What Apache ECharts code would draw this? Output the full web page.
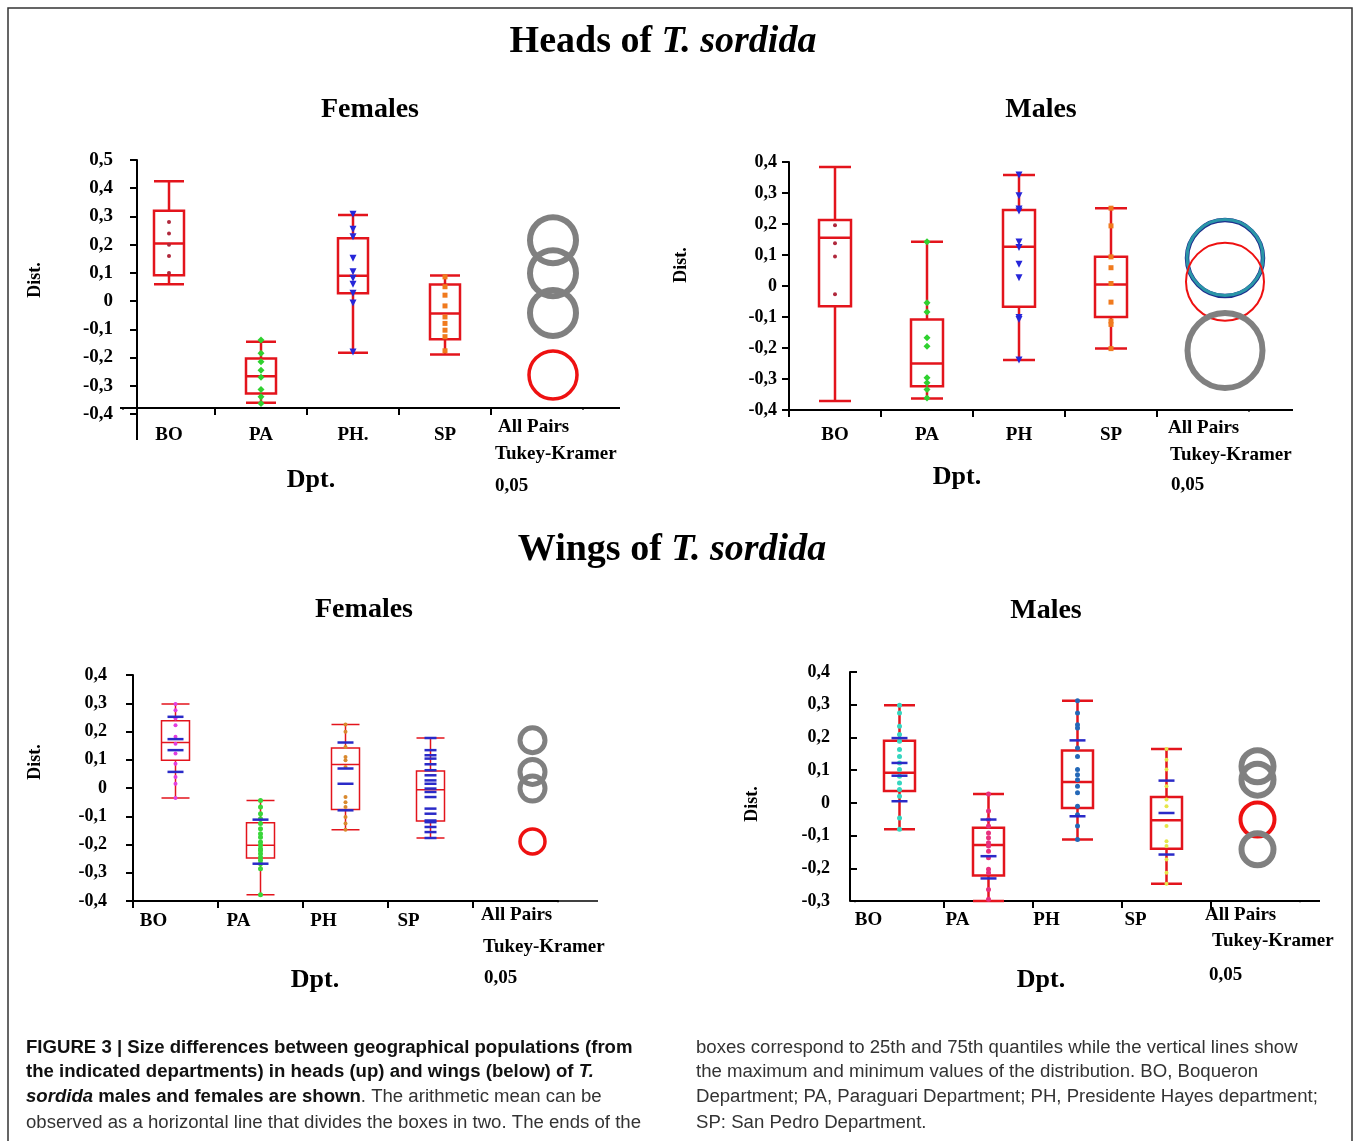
<!DOCTYPE html>
<html><head><meta charset="utf-8">
<script src="https://cdn.jsdelivr.net/npm/echarts@6/dist/echarts.min.js"></script>
<style>html,body{margin:0;padding:0;background:#fff}#c{width:1354px;height:1141px}</style>
</head><body><div id="c"></div>
<script>
// ---------------- DATA ----------------
const headsFemaleCats = ['BO', 'PA', 'PH.', 'SP', 'All Pairs'];
const otherCats = ['BO', 'PA', 'PH', 'SP', 'All Pairs'];

// boxes: [min, Q1, median, Q3, max] for BO, PA, PH, SP
const hfBoxes = [[0.06, 0.092, 0.204, 0.32, 0.425], [-0.36, -0.327, -0.266, -0.203, -0.144], [-0.183, 0.028, 0.09, 0.223, 0.305], [-0.189, -0.135, -0.044, 0.059, 0.091]];
const hfPtsBO = [0.28, 0.24, 0.2, 0.16, 0.1];
const hfPtsPA = [-0.138, -0.185, -0.215, -0.245, -0.27, -0.313, -0.339, -0.363];
const hfPtsPH = [0.308, 0.255, 0.228, 0.152, 0.104, 0.081, 0.06, 0.028, -0.007, -0.18];
const hfPtsSP = [0.086, 0.051, 0.021, -0.017, -0.056, -0.079, -0.103, -0.126, -0.176];
const hfCircles = [0.216, 0.099, -0.042, -0.262];

const hmBoxes = [[-0.371, -0.065, 0.156, 0.213, 0.384], [-0.363, -0.323, -0.25, -0.108, 0.143], [-0.239, -0.067, 0.127, 0.245, 0.358], [-0.202, -0.1, 0.005, 0.094, 0.251]];
const hmPtsBO = [0.196, 0.138, 0.095, -0.027];
const hmPtsPA = [0.143, -0.054, -0.084, -0.167, -0.194, -0.296, -0.312, -0.334, -0.361];
const hmPtsPH = [0.358, 0.291, 0.248, 0.242, 0.142, 0.124, 0.07, 0.027, -0.102, -0.108, -0.239];
const hmPtsSP = [0.251, 0.194, 0.094, 0.059, 0.008, -0.052, -0.113, -0.124, -0.202];
const hmCircles = [0.09, 0.092, 0.014, -0.208];

const wfBoxes = [[-0.035, 0.098, 0.161, 0.238, 0.297], [-0.378, -0.248, -0.203, -0.123, -0.044], [-0.148, -0.076, 0.083, 0.142, 0.225], [-0.177, -0.117, -0.006, 0.06, 0.177]];
const wfPtsBO = [0.297, 0.275, 0.246, 0.222, 0.181, 0.157, 0.122, 0.086, 0.039, 0.015, -0.035];
const wfPtsPA = [-0.044, -0.067, -0.091, -0.109, -0.126, -0.144, -0.162, -0.174, -0.191, -0.203, -0.215, -0.221, -0.233, -0.245, -0.256, -0.268, -0.286, -0.378];
const wfPtsPH = [0.225, 0.199, 0.145, 0.11, 0.098, 0.074, -0.032, -0.05, -0.067, -0.103, -0.126, -0.148];
const wfPtsSP = [];
const wfCrossBO = [0.252, 0.173, 0.134, 0.057];
const wfCrossPA = [-0.112, -0.268];
const wfCrossPH = [0.161, 0.069, 0.015, -0.079];
const wfCrossSP = [0.177, 0.134, 0.116, 0.104, 0.084, 0.063, 0.045, 0.027, 0.015, -0.002, -0.014, -0.032, -0.073, -0.091, -0.115, -0.121, -0.138, -0.156, -0.177];
const wfCircles = [0.169, 0.057, -0.002, -0.189];

const wmBoxes = [[-0.081, 0.036, 0.092, 0.19, 0.298], [-0.3, -0.222, -0.129, -0.076, 0.027], [-0.112, -0.016, 0.064, 0.16, 0.312], [-0.247, -0.14, -0.053, 0.018, 0.165]];
const wmPtsBO = [0.298, 0.275, 0.234, 0.209, 0.188, 0.163, 0.142, 0.122, 0.102, 0.081, 0.061, 0.041, 0.02, -0.046, -0.081];
const wmPtsPA = [0.027, -0.025, -0.051, -0.071, -0.092, -0.107, -0.122, -0.132, -0.148, -0.168, -0.203, -0.214, -0.265, -0.295];
const wmPtsPH = [0.312, 0.275, 0.239, 0.229, 0.168, 0.142, 0.102, 0.086, 0.071, 0.051, 0.031, -0.01, -0.036, -0.071, -0.112];
const wmPtsSP = [0.165, 0.132, 0.102, 0.051, 0.01, -0.01, -0.071, -0.117, -0.132, -0.173, -0.214, -0.247];
const wmCrossBO = [0.198, 0.122, 0.083, 0.005];
const wmCrossPA = [-0.051, -0.163, -0.231];
const wmCrossPH = [0.191, -0.041];
const wmCrossSP = [0.068, -0.031, -0.158];
const wmCircles = [0.112, 0.071, -0.051, -0.142];

const captionLeft = [
  '{b|FIGURE 3 | Size differences between geographical populations (from}',
  '{b|the indicated departments) in heads (up) and wings (below) of }{bi|T.}',
  '{bi|sordida}{b| males and females are shown}{n|. The arithmetic mean can be}',
  '{n|observed as a horizontal line that divides the boxes in two. The ends of the}'
];
const captionRight = [
  'boxes correspond to 25th and 75th quantiles while the vertical lines show',
  'the maximum and minimum values of the distribution. BO, Boqueron',
  'Department; PA, Paraguari Department; PH, Presidente Hayes department;',
  'SP: San Pedro Department.'
];

// ---------------- STYLES / LAYOUT ----------------
const SERIF = '"Liberation Serif", "Times New Roman", serif';
const SANS = '"Liberation Sans", Arial, sans-serif';
const RED = '#e3141c', GRAY = '#808080', BLUE = '#2a2ac8';
const headPtStyle = [
  {symbol: 'circle', size: 4, color: '#b0283c'},
  {symbol: 'diamond', size: 7, color: '#2fd12f'},
  {symbol: 'triangle', size: 7, color: '#2626d9', rotate: 180},
  {symbol: 'rect', size: 5, color: '#f07a1e'}
];
const panels = [
  {cats: headsFemaleCats, boxes: hfBoxes, pts: [hfPtsBO, hfPtsPA, hfPtsPH, hfPtsSP], crosses: null, circles: hfCircles,
   circleStyle: [{c: GRAY, w: 6, s: 46}, {c: GRAY, w: 6, s: 46}, {c: GRAY, w: 6, s: 46}, {c: '#ee1111', w: 3.5, s: 48}],
   circleOffset: 16, grid: {left: 123, top: 160, width: 460, height: 254}, ymin: -0.4, ymax: 0.5, yOffset: -14, xOffset: -6,
   boxW: 30, lw: 2.5, ptStyle: headPtStyle, yLabelMargin: 24, yLabelSize: 19, xLabelMargin: 18, xPad: 0, tickInside: false},
  {cats: otherCats, boxes: hmBoxes, pts: [hmPtsBO, hmPtsPA, hmPtsPH, hmPtsSP], crosses: null, circles: hmCircles,
   circleStyle: [{c: '#1c2c8c', w: 4.5, s: 76}, {c: '#2a96a8', w: 3, s: 76}, {c: '#ee1111', w: 2, s: 78}, {c: GRAY, w: 6, s: 75}],
   circleOffset: 22, grid: {left: 789, top: 162, width: 460, height: 248}, ymin: -0.4, ymax: 0.4, yOffset: 0, xOffset: 0,
   boxW: 32, lw: 2.5, ptStyle: headPtStyle, yLabelMargin: 12, yLabelSize: 18, xLabelMargin: 16, xPad: 0, tickInside: false},
  {cats: otherCats, boxes: wfBoxes, pts: [wfPtsBO, wfPtsPA, wfPtsPH, wfPtsSP], crosses: [wfCrossBO, wfCrossPA, wfCrossPH, wfCrossSP], circles: wfCircles,
   circleStyle: [{c: GRAY, w: 5, s: 25}, {c: GRAY, w: 5, s: 25}, {c: GRAY, w: 5, s: 25}, {c: '#ee1111', w: 3.5, s: 25}],
   circleOffset: 17, grid: {left: 133, top: 675, width: 425, height: 226}, ymin: -0.4, ymax: 0.4, yOffset: 0, xOffset: 0,
   boxW: 28, lw: 1.5, yLabelMargin: 26, yLabelSize: 18, xLabelMargin: 11, xPad: 44, tickInside: false,
   ptStyle: [{symbol: 'circle', size: 4, color: '#e23ee0'}, {symbol: 'circle', size: 5, color: '#39d639'}, {symbol: 'circle', size: 4, color: '#d9892e'}, {symbol: 'circle', size: 4, color: BLUE}]},
  {cats: otherCats, boxes: wmBoxes, pts: [wmPtsBO, wmPtsPA, wmPtsPH, wmPtsSP], crosses: [wmCrossBO, wmCrossPA, wmCrossPH, wmCrossSP], circles: wmCircles,
   circleStyle: [{c: GRAY, w: 6, s: 32}, {c: GRAY, w: 6, s: 32}, {c: '#ee1111', w: 4, s: 34}, {c: GRAY, w: 6, s: 32}],
   circleOffset: 2, grid: {left: 855, top: 672, width: 445, height: 229}, ymin: -0.3, ymax: 0.4, yOffset: 5, xOffset: 0,
   boxW: 31, lw: 2.5, yLabelMargin: 20, yLabelSize: 18, xLabelMargin: 10, xPad: 62, tickInside: true,
   ptStyle: [{symbol: 'circle', size: 5, color: '#35d6c0'}, {symbol: 'circle', size: 5, color: '#e8307e'}, {symbol: 'circle', size: 5, color: '#2468b8'}, {symbol: 'circle', size: 4, color: '#e6e64a'}]}
];

function fmt(v) {
  if (Math.abs(v) < 1e-9) return '0';
  return v.toFixed(1).replace('.', ',');
}

const grids = [], xAxes = [], yAxes = [], series = [];
panels.forEach((p, i) => {
  grids.push(Object.assign({outerBoundsMode: 'none', containLabel: false}, p.grid));
  xAxes.push({
    type: 'category', gridIndex: i, data: p.cats, boundaryGap: true, offset: p.xOffset,
    axisLine: {onZero: false, lineStyle: {color: '#000', width: 2}},
    axisTick: {show: true, length: 7, lineStyle: {color: '#000', width: 2}},
    axisLabel: {margin: p.xLabelMargin, color: '#000', fontFamily: SERIF, fontWeight: 'bold', fontSize: 19,
      padding: [0, p.xPad, 0, 0], interval: 0,
      formatter: v => v === 'All Pairs' ? '' : v},
    splitLine: {show: false}
  });
  yAxes.push({
    type: 'value', gridIndex: i, min: p.ymin, max: p.ymax, interval: 0.1, offset: p.yOffset,
    axisLine: {show: true, onZero: false, lineStyle: {color: '#000', width: 2}},
    axisTick: {show: true, length: 7, inside: p.tickInside, lineStyle: {color: '#000', width: 2}},
    axisLabel: {margin: p.yLabelMargin, color: '#000', fontFamily: SERIF, fontWeight: 'bold', fontSize: p.yLabelSize, formatter: fmt},
    splitLine: {show: false}
  });
  series.push({
    type: 'boxplot', xAxisIndex: i, yAxisIndex: i, data: p.boxes, boxWidth: [p.boxW, p.boxW],
    itemStyle: {color: 'rgba(0,0,0,0)', borderColor: RED, borderWidth: p.lw},
    emphasis: {disabled: true}, silent: true, z: 2
  });
  p.pts.forEach((arr, k) => {
    const st = p.ptStyle[k];
    series.push({
      type: 'scatter', xAxisIndex: i, yAxisIndex: i, data: arr.map(v => [p.cats[k], v]),
      symbol: st.symbol, symbolSize: st.size, symbolRotate: st.rotate || 0,
      itemStyle: {color: st.color, opacity: 1}, silent: true, z: 3
    });
  });
  if (p.crosses) {
    p.crosses.forEach((arr, k) => {
      series.push({
        type: 'scatter', xAxisIndex: i, yAxisIndex: i, data: arr.map(v => [p.cats[k], v]),
        symbol: 'rect', symbolSize: k === 3 && i === 2 ? [12, 2.5] : [16, 2.5],
        itemStyle: {color: BLUE, opacity: 1}, silent: true, z: 4
      });
    });
  }
  series.push({
    type: 'scatter', xAxisIndex: i, yAxisIndex: i, silent: true, z: 5,
    data: p.circles.map((v, k) => ({
      value: ['All Pairs', v], symbolSize: p.circleStyle[k].s,
      itemStyle: {color: 'rgba(0,0,0,0)', borderColor: p.circleStyle[k].c, borderWidth: p.circleStyle[k].w, opacity: 1}
    })),
    symbol: 'circle', symbolOffset: [p.circleOffset, 0]
  });
});

// ---------------- GRAPHICS (texts, frame) ----------------
const g = [];
function txt(x, y, text, size, opts) {
  opts = opts || {};
  g.push({type: 'text', x: x, y: y, rotation: opts.rotation || 0, silent: true,
    style: {text: text, fontFamily: opts.family || SERIF, fontWeight: opts.weight || 'bold', fontSize: size,
      fill: opts.fill || '#000', align: opts.align || 'center', verticalAlign: 'middle', rich: opts.rich}});
}
function line(x1, y1, x2, y2, w, color) {
  g.push({type: 'line', silent: true, z: 100, shape: {x1, y1, x2, y2}, style: {stroke: color || '#000', lineWidth: w || 2}});
}
g.push({type: 'rect', silent: true, shape: {x: 8, y: 8, width: 1344, height: 1160}, style: {fill: 'none', stroke: '#333', lineWidth: 1.5}});

const titleRich = (sz) => ({a: {fontFamily: SERIF, fontWeight: 'bold', fontSize: sz}, b: {fontFamily: SERIF, fontWeight: 'bold', fontStyle: 'italic', fontSize: sz}});
txt(663, 42, '{a|Heads of }{b|T. sordida}', 38, {rich: titleRich(38)});
txt(672, 550, '{a|Wings of }{b|T. sordida}', 38, {rich: titleRich(38)});
txt(370, 110, 'Females', 28); txt(1041, 110, 'Males', 28);
txt(364, 610, 'Females', 28); txt(1046, 611, 'Males', 28);
[[35, 280], [681, 265], [35, 762], [752, 804]].forEach(([x, y]) => txt(x, y, 'Dist.', 18, {rotation: Math.PI / 2}));
[[311, 480], [957, 477], [315, 980], [1041, 980]].forEach(([x, y]) => txt(x, y, 'Dpt.', 26));
[[498, 427, 495, 454, 495, 486], [1168, 428, 1170, 455, 1171, 485], [481, 915, 483, 947, 484, 978], [1205, 915, 1212, 941, 1209, 975]].forEach(a => {
  txt(a[0], a[1], 'All Pairs', 19, {align: 'left'});
  txt(a[2], a[3], 'Tukey-Kramer', 19, {align: 'left'});
  txt(a[4], a[5], '0,05', 19, {align: 'left'});
});
// axis line extensions as in the original drawing
line(583, 408, 620, 408); line(120, 408, 137, 408); line(137, 414, 137, 440);
line(1249, 410, 1293, 410);
line(558, 901, 598, 901, 1.5);
line(1300, 901, 1320, 901);
// the original has no ticks at the ends of the category axes
line(583, 409.6, 583, 417, 4, '#fff'); line(123, 409.6, 123, 417, 4, '#fff');
line(1249, 411.6, 1249, 419, 4, '#fff');
line(558, 902.2, 558, 910, 4, '#fff');
line(1300, 902.2, 1300, 910, 4, '#fff'); line(855, 902.2, 855, 910, 4, '#fff');

// caption (condensed sans)
const ctx = document.createElement('canvas').getContext('2d');
ctx.font = '18px ' + SANS;
const capScale = 615 / ctx.measureText('observed as a horizontal line that divides the boxes in two. The ends of the').width;
const capRich = {
  b: {fontFamily: SANS, fontWeight: 'bold', fontSize: 18, fill: '#111'},
  bi: {fontFamily: SANS, fontWeight: 'bold', fontStyle: 'italic', fontSize: 18, fill: '#111'},
  n: {fontFamily: SANS, fontWeight: 'normal', fontSize: 18, fill: '#333'}
};
const capY = [1048, 1072, 1097, 1123];
captionLeft.forEach((t, k) => g.push({type: 'text', x: 26, y: capY[k], scaleX: capScale, silent: true,
  style: {text: t, rich: capRich, align: 'left', verticalAlign: 'middle'}}));
captionRight.forEach((t, k) => g.push({type: 'text', x: 696, y: capY[k], scaleX: capScale, silent: true,
  style: {text: t, fontFamily: SANS, fontSize: 18, fill: '#333', align: 'left', verticalAlign: 'middle'}}));

const chart = echarts.init(document.getElementById('c'), null, {renderer: 'canvas'});
chart.setOption({
  animation: false, backgroundColor: '#fff',
  grid: grids, xAxis: xAxes, yAxis: yAxes, series: series, graphic: g
});
</script></body></html>
